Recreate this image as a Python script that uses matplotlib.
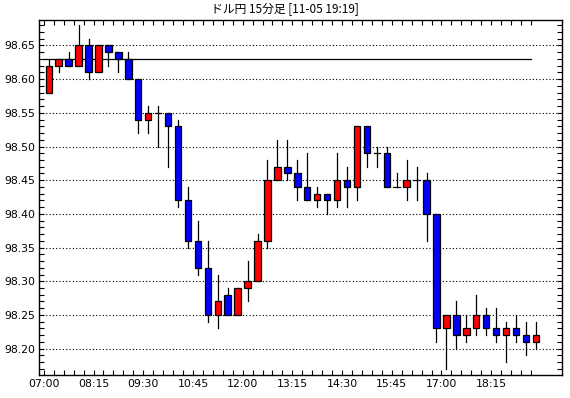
# USD/JPY 15-minute candlestick chart

import matplotlib.pyplot as plt
import numpy as np

# Candle data (07:00 - 19:15, 15 minute bars)
opens = [98.58, 98.62, 98.63, 98.62, 98.65, 98.61, 98.65, 98.64, 98.63, 98.60,
         98.54, 98.55, 98.55, 98.53, 98.42, 98.36, 98.32, 98.25, 98.28, 98.25,
         98.29, 98.30, 98.36, 98.45, 98.47, 98.46, 98.44, 98.42, 98.43, 98.42,
         98.45, 98.44, 98.53, 98.49, 98.49, 98.44, 98.44, 98.45, 98.45, 98.40,
         98.23, 98.25, 98.22, 98.23, 98.25, 98.23, 98.22, 98.23, 98.22, 98.21]
highs = [98.63, 98.63, 98.64, 98.68, 98.66, 98.65, 98.65, 98.64, 98.64, 98.60,
         98.56, 98.56, 98.55, 98.54, 98.44, 98.39, 98.36, 98.31, 98.29, 98.29,
         98.33, 98.37, 98.48, 98.51, 98.51, 98.48, 98.49, 98.44, 98.43, 98.49,
         98.47, 98.53, 98.53, 98.50, 98.50, 98.46, 98.48, 98.47, 98.46, 98.40,
         98.25, 98.27, 98.25, 98.28, 98.26, 98.26, 98.24, 98.25, 98.24, 98.24]
lows = [98.58, 98.61, 98.62, 98.62, 98.60, 98.61, 98.62, 98.61, 98.60, 98.52,
        98.52, 98.50, 98.47, 98.41, 98.35, 98.31, 98.24, 98.23, 98.25, 98.25,
        98.27, 98.30, 98.35, 98.45, 98.45, 98.42, 98.42, 98.41, 98.40, 98.41,
        98.41, 98.42, 98.47, 98.47, 98.44, 98.44, 98.42, 98.42, 98.36, 98.21,
        98.17, 98.20, 98.21, 98.22, 98.22, 98.21, 98.18, 98.21, 98.19, 98.20]
closes = [98.62, 98.63, 98.62, 98.65, 98.61, 98.65, 98.64, 98.63, 98.60, 98.54,
          98.55, 98.55, 98.53, 98.42, 98.36, 98.32, 98.25, 98.27, 98.25, 98.29,
          98.30, 98.36, 98.45, 98.47, 98.46, 98.44, 98.42, 98.43, 98.42, 98.45,
          98.44, 98.53, 98.49, 98.49, 98.44, 98.44, 98.45, 98.45, 98.40, 98.23,
          98.25, 98.22, 98.23, 98.25, 98.23, 98.22, 98.23, 98.22, 98.21, 98.22]

time_labels = ["07:00", "08:15", "09:30", "10:45", "12:00",
               "13:15", "14:30", "15:45", "17:00", "18:15"]
ref_price = 98.63  # horizontal reference line
y_labels = [98.20, 98.25, 98.30, 98.35, 98.40, 98.45, 98.50, 98.55, 98.60, 98.65]

plt.rcParams['font.family'] = ['Noto Sans CJK JP', 'DejaVu Sans']

fig = plt.figure(figsize=(5.7, 3.98), dpi=100)
ax = fig.add_axes([0.069, 0.058, 0.9165, 0.892])

n = len(opens)
idx = np.arange(n)
body_w = 0.65

# dotted grid at labelled prices
for p in y_labels:
    ax.axhline(p, color='black', linestyle=(0, (1, 2)), linewidth=0.8, zorder=1)

# reference line
ax.plot([-0.5, n - 1.5], [ref_price, ref_price], color='black', linewidth=0.9, zorder=2)

for i in idx:
    o, h, l, c = opens[i], highs[i], lows[i], closes[i]
    ax.plot([i, i], [l, h], color='black', linewidth=0.9, zorder=3)
    if c == o:
        ax.plot([i - body_w / 2, i + body_w / 2], [o, o], color='black', linewidth=0.9, zorder=4)
        continue
    color = '#ff0000' if c > o else '#0000ff'
    ax.bar(i, abs(c - o), bottom=min(o, c), width=body_w, color=color,
           edgecolor='black', linewidth=0.9, zorder=4)

ax.set_xlim(-0.95, 51.6)
ax.set_ylim(98.161, 98.688)

# x ticks: every bar boundary, labels every 5 bars
ax.set_xticks(np.arange(n) - 0.5, minor=True)
ax.set_xticks(np.arange(0, n, 5) - 0.5)
ax.set_xticklabels(time_labels, fontsize=7.8, family='DejaVu Sans')
ax.set_yticks(y_labels)
ax.set_yticklabels([f"{p:.2f}" for p in y_labels], fontsize=7.8, family='DejaVu Sans')
ax.set_yticks(np.round(np.arange(98.17, 98.69, 0.01), 2), minor=True)

ax.tick_params(which='both', direction='in', top=True, right=True,
               length=3.5, width=0.8, color='black', pad=3)
for s in ax.spines.values():
    s.set_linewidth(1.0)

fig.text(0.5, 0.977, "ドル円 15分足 [11-05 19:19]", ha='center', va='center', fontsize=8.5)

fig.savefig("out.png", dpi=100)
